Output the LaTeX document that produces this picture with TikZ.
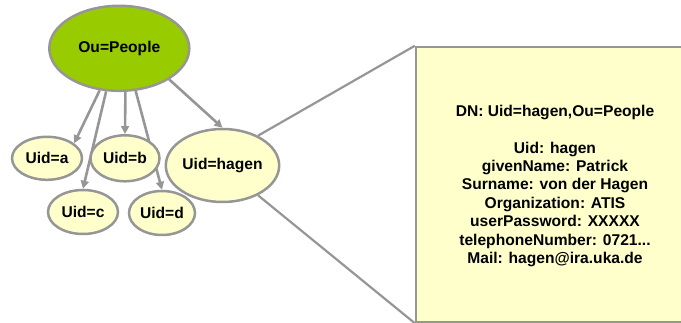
\documentclass[tikz,border=0pt]{standalone}
\usepackage{fontspec}
\setmainfont{Liberation Sans}
\usetikzlibrary{shapes.geometric,arrows.meta,backgrounds}
\definecolor{ougreen}{RGB}{153,204,0}
\definecolor{entryfill}{RGB}{255,255,204}
\definecolor{edgegray}{RGB}{150,150,150}
\tikzset{
  dnnode/.style={ellipse, draw=edgegray, line width=2.5pt, fill=entryfill,
    inner sep=0pt, font=\fontsize{15.6}{18}\selectfont\bfseries},
  rootnode/.style={dnnode, fill=ougreen},
  child/.style={draw=edgegray, line width=2.6pt,
    -{Triangle[length=8pt,width=8pt]}},
  callout/.style={draw=edgegray, line width=2.2pt},
}
\begin{document}
\begin{tikzpicture}[x=1pt,y=-1pt]
\useasboundingbox (0,0) rectangle (681,323);

% directory tree
\node[rootnode, minimum width=140pt, minimum height=85pt] (people) at (119.3,48.3) {Ou=People};
\node[dnnode, minimum width=70pt, minimum height=43pt] (a) at (47,158.3) {Uid=a};
\node[dnnode, minimum width=69pt, minimum height=46pt] (b) at (125,158.3) {Uid=b};
\node[dnnode, minimum width=70pt, minimum height=44pt] (c) at (83,212) {Uid=c};
\node[dnnode, minimum width=66pt, minimum height=44pt] (d) at (162,213) {Uid=d};
\node[dnnode, minimum width=91pt, minimum height=73pt] (hagen) at (222.5,165.5) {Uid=hagen};

% child links run beneath the entries
\begin{pgfonlayer}{background}
\draw[child] (people.-115.4) -- (a.29);
\draw[child] (people.-107.8) -- (c.north);
\draw[child] (people.-82.3) -- (b.north);
\draw[child] (people.-69.1) -- (d.north);
\draw[child] (people.-32) -- (hagen.north);
\end{pgfonlayer}

% entry detail box
\node[draw=edgegray, line width=2.4pt, fill=entryfill, minimum width=267pt,
  minimum height=275pt, inner sep=0pt] (box) at (549.5,184.5) {};
\node[align=center, font=\fontsize{15.6}{18.4}\selectfont\bfseries] (attrs) at (555,186)
  {DN: Uid=hagen,Ou=People\\[18.4pt]
   Uid: hagen\\
   givenName: Patrick\\
   Surname: von der Hagen\\
   Organization: ATIS\\
   userPassword: XXXXX\\
   telephoneNumber: 0721...\\
   Mail: hagen@ira.uka.de};

\draw[callout] (hagen.40) -- (box.north west);
\draw[callout] (hagen.-40) -- (box.south west);
\end{tikzpicture}
\end{document}
